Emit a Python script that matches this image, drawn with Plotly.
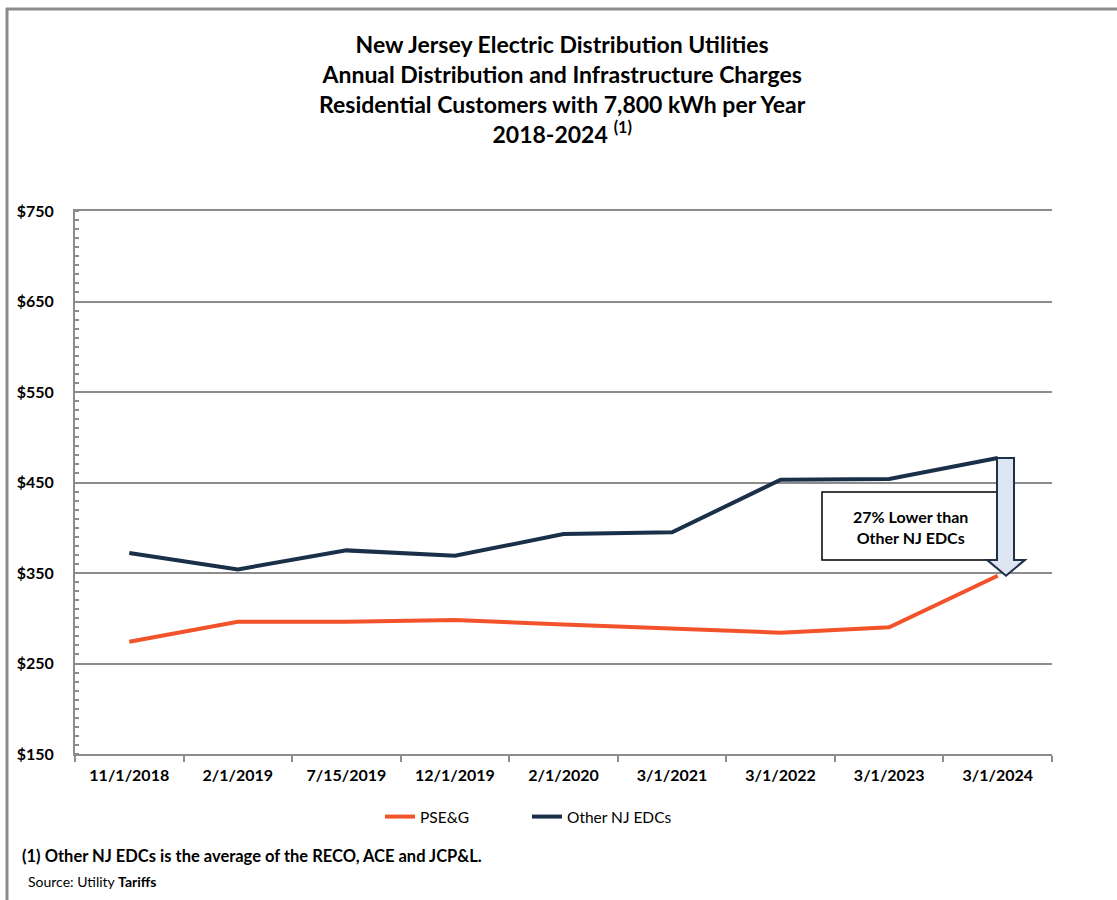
import plotly.graph_objects as go

# ---- data ----
dates = ["11/1/2018", "2/1/2019", "7/15/2019", "12/1/2019", "2/1/2020",
         "3/1/2021", "3/1/2022", "3/1/2023", "3/1/2024"]
pseg = [274, 296, 296, 298, 293, 288, 284, 290, 347]
other_edcs = [372, 354, 375, 369, 393, 395, 453, 454, 477]
y_ticks = [150, 250, 350, 450, 550, 650, 750]
y_tick_labels = ["$150", "$250", "$350", "$450", "$550", "$650", "$750"]

W, H = 1117, 900
L, R, T, B = 75, 65, 211, 146
PW, PH = W - L - R, H - T - B


def px(x):
    return (x - L) / PW


def py(y):
    return (H - B - y) / PH


FONT = "Lato, 'Open Sans', sans-serif"
ORANGE = "#F2532B"
NAVY = "#1A3049"
GRID = "#8C8C8C"

fig = go.Figure()
fig.add_trace(go.Scatter(x=dates, y=pseg, mode="lines", name="PSE&G",
                         line=dict(color=ORANGE, width=4), legend="legend"))
fig.add_trace(go.Scatter(x=dates, y=other_edcs, mode="lines", name="Other NJ EDCs",
                         line=dict(color=NAVY, width=4), legend="legend2"))

shapes = []
# outer frame (left and top)
shapes.append(dict(type="line", xref="paper", yref="paper", x0=px(7), x1=px(7),
                   y0=py(8), y1=py(905), line=dict(color=GRID, width=3)))
shapes.append(dict(type="line", xref="paper", yref="paper", x0=px(6), x1=px(1125),
                   y0=py(9), y1=py(9), line=dict(color=GRID, width=3)))
# annotation box
shapes.append(dict(type="rect", xref="paper", yref="paper", x0=px(822), x1=px(998),
                   y0=py(560), y1=py(492), fillcolor="white",
                   line=dict(color="black", width=1.5), layer="above"))
# down arrow from Other NJ EDCs to PSE&G at last date
top_v = other_edcs[-1]
tip_v = pseg[-1]
head_v = tip_v + 17.5
xs = [px(997), px(1014), px(1025), px(1006), px(987)]
path = (f"M {xs[0]},{top_v} L {xs[1]},{top_v} L {xs[1]},{head_v} L {xs[2]},{head_v} "
        f"L {xs[3]},{tip_v} L {xs[4]},{head_v} L {xs[0]},{head_v} Z")
shapes.append(dict(type="path", xref="paper", yref="y", path=path,
                   fillcolor="#DDE5F2", line=dict(color="#1F3049", width=2),
                   layer="above"))

annotations = [
    dict(text="<b>New Jersey Electric Distribution Utilities<br>"
              "Annual Distribution and Infrastructure Charges<br>"
              "Residential Customers with 7,800 kWh per Year<br>"
              "2018-2024</b> <sup><b>(1)</b></sup>",
         xref="paper", yref="paper", x=px(562), y=py(89), xanchor="center",
         yanchor="middle", showarrow=False, align="center",
         font=dict(family=FONT, size=23, color="black")),
    dict(text="<b>27% Lower than<br>Other NJ EDCs</b>", xref="paper", yref="paper",
         x=px(910), y=py(527), xanchor="center", yanchor="middle", showarrow=False,
         font=dict(family=FONT, size=16, color="black")),
    dict(text="<b>(1) Other NJ EDCs is the average of the RECO, ACE and JCP&L.</b>",
         xref="paper", yref="paper", x=px(20), y=py(856), xanchor="left",
         yanchor="middle", showarrow=False,
         font=dict(family=FONT, size=16.5, color="black")),
    dict(text="Source: Utility <b>Tariffs</b>", xref="paper", yref="paper",
         x=px(26), y=py(881), xanchor="left", yanchor="middle", showarrow=False,
         font=dict(family=FONT, size=14, color="black")),
]

legend_common = dict(orientation="h", yanchor="middle", xanchor="left",
                     font=dict(family=FONT, size=15.5, color="black"),
                     itemwidth=30, bgcolor="rgba(0,0,0,0)", borderwidth=0)

fig.update_layout(
    width=W, height=H,
    margin=dict(l=L, r=R, t=T, b=B, autoexpand=False),
    paper_bgcolor="white", plot_bgcolor="white",
    font=dict(family=FONT, color="black"),
    showlegend=True,
    legend=dict(x=px(380), y=py(817), **legend_common),
    legend2=dict(x=px(527), y=py(817), **legend_common),
    shapes=shapes,
    annotations=annotations,
)

fig.update_xaxes(type="category", categoryorder="array", categoryarray=dates,
                 tickvals=dates, ticktext=[f"<b>{d}</b>" for d in dates],
                 range=[-0.5, len(dates) - 0.5],
                 showline=True, linecolor=GRID, linewidth=2, mirror=True,
                 showgrid=False, ticks="outside", tickson="boundaries",
                 ticklen=6, tickcolor=GRID, tickwidth=1.5,
                 tickfont=dict(family=FONT, size=16, color="black"),
                 ticklabelstandoff=6, zeroline=False, fixedrange=True)
fig.update_yaxes(range=[150, 750], tickvals=y_ticks,
                 ticktext=[f"<b>{t}</b>" for t in y_tick_labels],
                 showline=True, linecolor=GRID, linewidth=2,
                 showgrid=True, gridcolor=GRID, gridwidth=2,
                 ticks="", tickfont=dict(family=FONT, size=16, color="black"),
                 ticklabelstandoff=16,
                 minor=dict(dtick=10, tick0=150, ticks="inside", ticklen=4,
                            tickcolor=GRID, tickwidth=1.5, showgrid=False),
                 zeroline=False, fixedrange=True)

fig.write_html("out.html")
